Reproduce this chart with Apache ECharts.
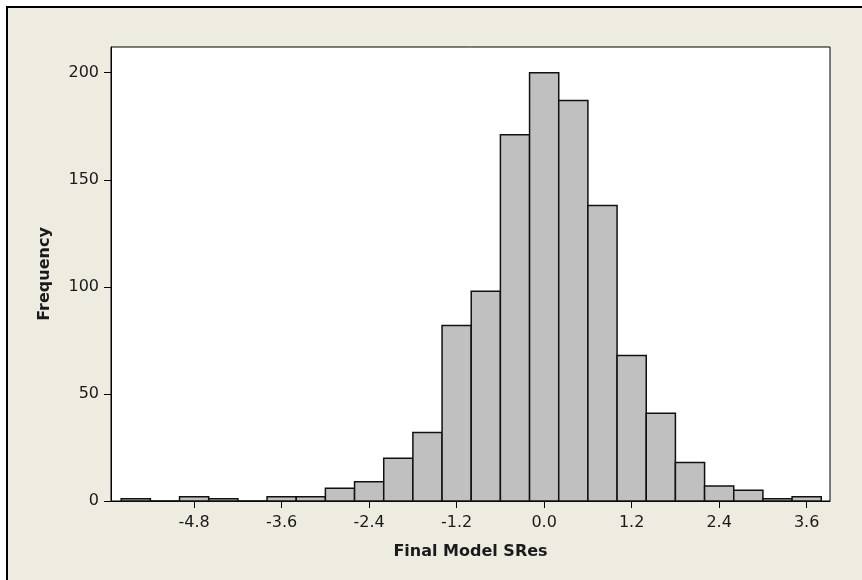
<!DOCTYPE html>
<html>
<head>
<meta charset="utf-8">
<script src="https://cdn.jsdelivr.net/npm/echarts@6/dist/echarts.min.js"></script>
<style>
  html, body { margin: 0; padding: 0; width: 862px; height: 580px; overflow: hidden; background: #ffffff; }
  #frame { position: absolute; left: 6px; top: 6px; width: 900px; height: 600px; border: 2px solid #000; background: #EEEBE1; }
  #chart { position: absolute; left: 0; top: 0; width: 862px; height: 580px; }
</style>
</head>
<body>
<div id="frame"></div>
<div id="chart"></div>
<script>
// Bin centers (bin width 0.4) and frequencies
const binCenters = [-5.6, -5.2, -4.8, -4.4, -4.0, -3.6, -3.2, -2.8, -2.4, -2.0, -1.6, -1.2,
                    -0.8, -0.4, 0.0, 0.4, 0.8, 1.2, 1.6, 2.0, 2.4, 2.8, 3.2, 3.6];
const frequencies = [1, 0, 2, 1, 0, 2, 2, 6, 9, 20, 32, 82,
                     98, 171, 200, 187, 138, 68, 41, 18, 7, 5, 1, 2];
const binWidth = 0.4;
const xTickValues = [-4.8, -3.6, -2.4, -1.2, 0.0, 1.2, 2.4, 3.6];
const yTickValues = [0, 50, 100, 150, 200];
const xTitle = 'Final Model SRes';
const yTitle = 'Frequency';

const chart = echarts.init(document.getElementById('chart'), null, { renderer: 'canvas' });
const font = 'DejaVu Sans';

const data = binCenters.map((c, i) => [c, frequencies[i]]);

chart.setOption({
  backgroundColor: 'transparent',
  animation: false,
  grid: {
    left: 111, right: 32, top: 47, bottom: 79,
    show: true, backgroundColor: '#ffffff', borderColor: '#000', borderWidth: 1
  },
  xAxis: {
    type: 'value',
    min: -5.94, max: 3.92,
    name: xTitle,
    nameLocation: 'middle',
    nameGap: 43,
    nameTextStyle: { fontFamily: font, fontWeight: 'bold', fontSize: 16, color: '#1a1a1a' },
    axisLine: { show: true, onZero: false, lineStyle: { color: '#000', width: 1 } },
    axisTick: { show: true, length: 7, lineStyle: { color: '#000', width: 1 }, customValues: xTickValues },
    axisLabel: {
      fontFamily: font, fontSize: 16, color: '#1a1a1a', margin: 14,
      customValues: xTickValues,
      formatter: v => Number(v).toFixed(1)
    },
    splitLine: { show: false }
  },
  yAxis: {
    type: 'value',
    min: 0, max: 212,
    name: yTitle,
    nameLocation: 'middle',
    nameGap: 58,
    nameRotate: 90,
    nameTextStyle: { fontFamily: font, fontWeight: 'bold', fontSize: 16, color: '#1a1a1a' },
    axisLine: { show: true, onZero: false, lineStyle: { color: '#000', width: 1 } },
    axisTick: { show: true, length: 7, lineStyle: { color: '#000', width: 1 }, customValues: yTickValues },
    axisLabel: {
      fontFamily: font, fontSize: 16, color: '#1a1a1a', margin: 12,
      customValues: yTickValues
    },
    splitLine: { show: false }
  },
  series: [{
    type: 'custom',
    data: data,
    encode: { x: 0, y: 1 },
    renderItem: function (params, api) {
      const c = api.value(0);
      const f = api.value(1);
      const p0 = api.coord([c - binWidth / 2, 0]);
      const p1 = api.coord([c + binWidth / 2, f]);
      return {
        type: 'rect',
        shape: { x: p0[0], y: p1[1], width: p1[0] - p0[0], height: p0[1] - p1[1] },
        style: { fill: '#C0C0C0', stroke: '#111', lineWidth: 1.5 }
      };
    }
  }]
});
</script>
</body>
</html>
